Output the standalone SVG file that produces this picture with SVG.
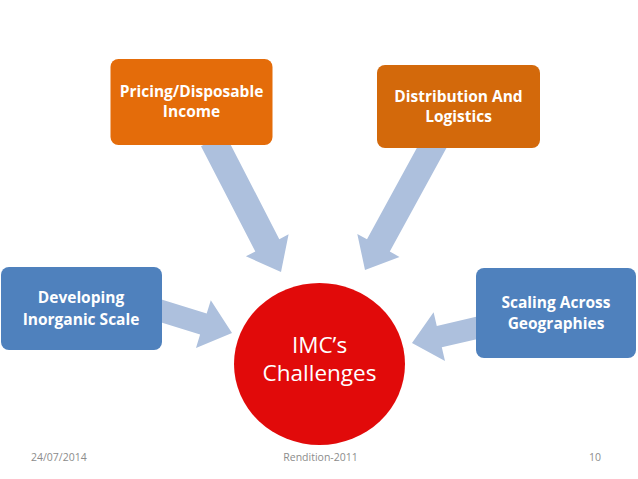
<svg xmlns="http://www.w3.org/2000/svg" width="638" height="479" viewBox="0 0 638 479">
<style>
.arrow{fill:#ADC0DD;}
.box text{fill:#FFFFFF;font-family:"Open Sans","Liberation Sans",sans-serif;font-weight:bold;font-size:15.5px;text-anchor:middle;}
.hub text{fill:#FFFFFF;font-family:"Open Sans","Liberation Sans",sans-serif;font-size:22.5px;text-anchor:middle;}
.foot{fill:#8C8C8C;font-family:"Open Sans","Liberation Sans",sans-serif;font-size:10.5px;}
</style>
<rect width="638" height="479" fill="#FFFFFF"/>
<g id="connectors">
<polygon class="arrow" points="201,146.2 255.3,251.5 245.9,256.3 281,272 288.6,234.3 279.3,239.2 225,133.8"/>
<polygon class="arrow" points="424.6,133.8 367,239.2 357.3,233.9 365,270 399.5,256.9 389.8,251.6 447.4,146.2"/>
<polygon class="arrow" points="158.3,298.5 206.7,313.6 210.8,300.2 232,333 196,348 200.1,334.6 151.7,319.5"/>
<polygon class="arrow" points="482.5,315.3 436.8,325.9 433.6,312.3 412,343 445,361 441.8,347.3 487.5,336.7"/>
</g>
<g id="pricing" class="box">
<rect x="110.5" y="59" width="162" height="86" rx="8" fill="#E46C0A"/>
<text x="191.5" y="97">Pricing/Disposable</text>
<text x="191.5" y="117">Income</text>
</g>
<g id="distribution" class="box">
<rect x="377" y="65" width="163" height="83" rx="8" fill="#D3690B"/>
<text x="458.5" y="102">Distribution And</text>
<text x="458.5" y="122">Logistics</text>
</g>
<g id="developing" class="box">
<rect x="1" y="267" width="161" height="83" rx="8" fill="#4F81BD"/>
<text x="81" y="303">Developing</text>
<text x="81" y="325">Inorganic Scale</text>
</g>
<g id="scaling" class="box">
<rect x="476" y="268" width="160" height="90" rx="8" fill="#4F81BD"/>
<text x="556" y="308">Scaling Across</text>
<text x="556" y="329">Geographies</text>
</g>
<g id="hub" class="hub">
<ellipse cx="319.5" cy="364" rx="85.5" ry="81" fill="#E10A0A"/>
<text x="319.5" y="353">IMC’s</text>
<text x="319.5" y="381">Challenges</text>
</g>
<g id="footer">
<text class="foot" x="31" y="461">24/07/2014</text>
<text class="foot" x="320.5" y="461" text-anchor="middle">Rendition-2011</text>
<text class="foot" x="601" y="461" text-anchor="end">10</text>
</g>
</svg>
